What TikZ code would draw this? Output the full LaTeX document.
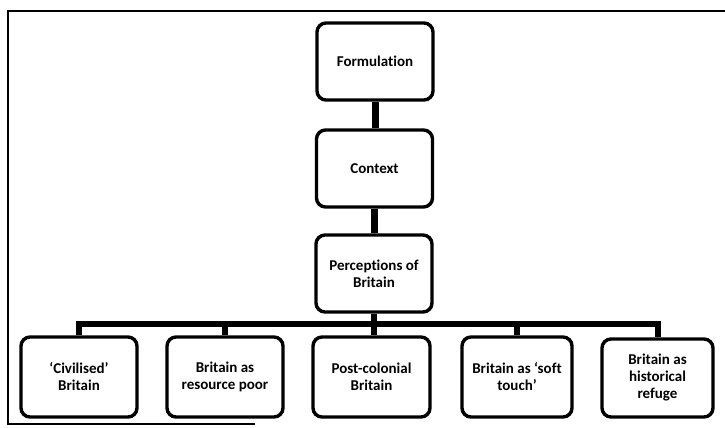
\documentclass[tikz,border=0pt]{standalone}
\usepackage{fontspec}
\setmainfont{Carlito}[RawFeature=-liga]
\begin{document}
\begin{tikzpicture}[x=1pt,y=-1pt,
  box/.style={draw=black, line width=3.4pt, rounded corners=9pt, inner sep=0pt,
    align=center, font=\fontsize{15}{17}\selectfont\bfseries},
  topbox/.style={box, minimum width=116pt, minimum height=77pt},
  botbox/.style={box, minimum width=114pt, minimum height=80pt},
  vlink/.style={draw=black, line width=7pt},
  bus/.style={draw=black, line width=6pt},
  frame/.style={draw=black, line width=1.6pt}]
\useasboundingbox (0,0) rectangle (725,428);
% frame
\coordinate (fbl) at (8,424);
\coordinate (ftl) at (8,11);
\coordinate (ftr) at (725,11);
\coordinate (fbr) at (255,424);
\draw[frame] (fbr) -- (fbl) -- (ftl) -- (ftr);
% nodes
\node[topbox] (form) at (375,61.5) {Formulation};
\node[topbox] (ctx) at (374.5,168.5) {Context};
\node[topbox] (perc) at (374,273.5) {Perceptions of\\Britain};
\node[botbox, minimum width=116pt] (b1) at (79,377) {`Civilised'\\Britain};
\node[botbox, minimum width=116pt] (b2) at (225,377) {Britain as\\resource poor};
\node[botbox, minimum width=117pt] (b3) at (371.5,377) {Post-colonial\\Britain};
\node[botbox, minimum width=110pt] (b4) at (517,377) {Britain as `soft\\touch'};
\node[botbox, minimum width=111pt, minimum height=78pt] (b5) at (657.5,378) {Britain as\\historical\\refuge};
% connectors
\draw[vlink] (form.south) -- (form.south |- ctx.north);
\draw[vlink] (ctx.south) -- (ctx.south |- perc.north);
\coordinate (bar) at (374,324);
\draw[bus] (b1.north) |- (bar) -| (b5.north);
\draw[bus] (perc.south) -- (perc.south |- b3.north);
\draw[bus] (b2.north) -- (b2.north |- bar);
\draw[bus] (b4.north) -- (b4.north |- bar);
\end{tikzpicture}
\end{document}
